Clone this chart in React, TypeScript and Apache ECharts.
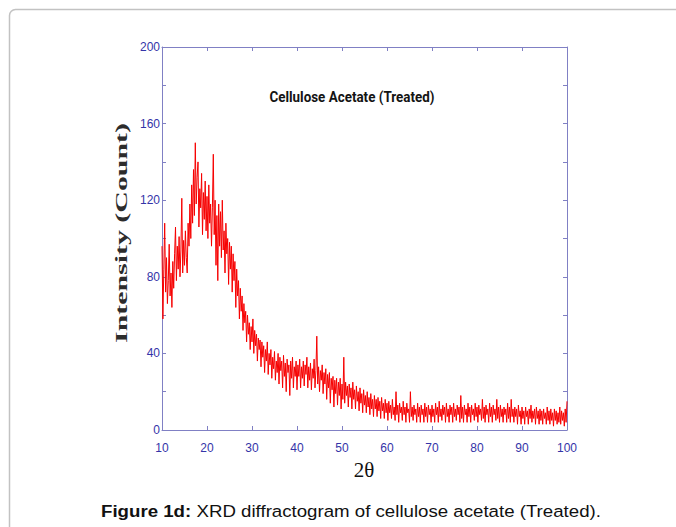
import React, { useEffect, useRef } from "react";
import * as echarts from "echarts";

// 2θ sampling of the trace
const X_START = 10;
const X_STEP = 0.2;

// Intensity (Count), 0.2° apart
const I_10_20 = [
  96, 58, 84, 108, 72, 90, 66, 78, 97, 70, 82, 64, 88, 74, 92, 106, 78, 96, 84, 101,
  80, 94, 121, 82, 99, 86, 104, 90, 82, 108, 96, 118, 100, 128, 108, 136, 112, 150, 118, 132,
  140, 106, 126, 116, 134, 102, 124, 110, 130, 104,
];
const I_20_30 = [
  122, 100, 128, 108, 118, 96, 116, 144, 102, 120, 86, 112, 78, 118, 96, 114, 90, 120, 94, 104,
  82, 108, 92, 100, 76, 98, 84, 96, 72, 92, 78, 88, 64, 84, 70, 78, 58, 74, 62, 70,
  52, 66, 56, 62, 46, 60, 50, 56, 42, 54,
];
const I_30_40 = [
  46, 58, 40, 52, 44, 50, 36, 48, 42, 47, 33, 46, 38, 44, 30, 42, 36, 46, 29, 40,
  34, 42, 27, 38, 32, 41, 26, 36, 30, 40, 24, 38, 31, 36, 22, 39, 28, 35, 20, 37,
  30, 34, 18, 36, 27, 38, 22, 33, 28, 36,
];
const I_40_50 = [
  21, 34, 28, 37, 22, 33, 27, 36, 23, 34, 29, 38, 22, 33, 26, 35, 21, 32, 27, 37,
  22, 31, 49, 24, 33, 20, 31, 26, 34, 19, 30, 24, 32, 16, 29, 22, 30, 14, 27, 21,
  28, 12, 26, 19, 27, 13, 25, 18, 27, 11,
];
const I_50_60 = [
  24, 16, 38, 14, 25, 18, 23, 12, 24, 17, 22, 11, 25, 16, 21, 11, 23, 15, 20, 10,
  22, 14, 19, 9, 21, 13, 18, 9, 20, 12, 17, 8, 19, 11, 16, 7, 18, 11, 16, 7,
  17, 10, 15, 6, 17, 10, 14, 6, 16, 9,
];
const I_60_70 = [
  14, 5, 15, 9, 13, 6, 16, 8, 12, 5, 20, 8, 13, 4, 14, 9, 12, 5, 15, 8,
  12, 4, 14, 9, 11, 4, 20, 7, 12, 5, 13, 8, 11, 4, 14, 7, 12, 4, 13, 8,
  11, 4, 14, 7, 12, 4, 13, 8, 11, 4,
];
const I_70_80 = [
  13, 7, 11, 4, 14, 8, 12, 4, 15, 7, 11, 5, 13, 8, 12, 4, 14, 7, 11, 4,
  13, 8, 12, 4, 14, 7, 11, 5, 13, 8, 12, 4, 18, 6, 12, 4, 13, 8, 11, 4,
  14, 7, 12, 4, 13, 8, 11, 5, 14, 7,
];
const I_80_90 = [
  12, 4, 13, 8, 11, 5, 16, 6, 12, 4, 13, 8, 11, 4, 14, 7, 12, 4, 13, 8,
  11, 5, 16, 6, 12, 4, 13, 7, 11, 4, 12, 8, 11, 4, 14, 6, 12, 4, 16, 7,
  11, 4, 12, 7, 11, 3, 13, 7, 10, 3,
];
const I_90_100 = [
  12, 6, 10, 3, 12, 7, 10, 3, 11, 6, 13, 4, 10, 6, 11, 3, 12, 6, 10, 3,
  11, 5, 10, 3, 11, 6, 9, 3, 12, 5, 10, 3, 11, 5, 9, 2, 11, 5, 10, 3,
  9, 4, 12, 3, 10, 5, 9, 2, 11, 4,
  15,
];

const Y_LABELS = [0, 40, 80, 120, 160, 200];

const TITLE = "Cellulose Acetate (Treated)";
const Y_NAME = "Intensity (Count)";
const X_NAME = "2θ";
const CAPTION_BOLD = "Figure 1d:";
const CAPTION_REST = " XRD diffractogram of cellulose acetate (Treated).";

const AXIS_COLOR = "#8080c4";
const LABEL_COLOR = "#3434a8";

function measure(text: string, font: string): number {
  const c = document.createElement("canvas");
  const ctx = c.getContext("2d");
  if (!ctx) return text.length * 8;
  ctx.font = font;
  return ctx.measureText(text).width;
}

export default function App() {
  const ref = useRef<HTMLDivElement>(null);

  useEffect(() => {
    if (!ref.current) return;
    const chart = echarts.init(ref.current, undefined, { renderer: "svg" });

    const values = [
      ...I_10_20, ...I_20_30, ...I_30_40, ...I_40_50, ...I_50_60,
      ...I_60_70, ...I_70_80, ...I_80_90, ...I_90_100,
    ];
    const data = values.map((v, i) => [X_START + i * X_STEP, v]);

    const titleFont = "bold 15px Roboto";
    const titleScale = 165 / measure(TITLE, titleFont);
    const yFont = "bold 17px 'Liberation Serif'";
    const yScale = 220 / measure(Y_NAME, yFont);
    const capBoldFont = "bold 17px 'Liberation Sans'";
    const capFont = "17px 'Liberation Sans'";
    const capScale =
      500 / (measure(CAPTION_BOLD, capBoldFont) + measure(CAPTION_REST, capFont));

    const axisCommon = {
      axisLine: { show: true, onZero: false, lineStyle: { color: AXIS_COLOR, width: 1 } },
      axisTick: { show: true, inside: true, length: 4, lineStyle: { color: AXIS_COLOR } },
      splitLine: { show: false },
    };

    chart.setOption({
      animation: false,
      backgroundColor: "#ffffff",
      grid: { left: 162, right: 109, top: 47, bottom: 97, containLabel: false },
      xAxis: [
        {
          type: "value",
          min: 10,
          max: 100,
          interval: 10,
          position: "bottom",
          ...axisCommon,
          axisLabel: {
            color: LABEL_COLOR,
            fontSize: 12,
            fontFamily: "'Liberation Sans', Arial, sans-serif",
            margin: 12,
          },
        },
        {
          type: "value",
          min: 10,
          max: 100,
          interval: 10,
          position: "top",
          ...axisCommon,
          axisLabel: { show: false },
        },
      ],
      yAxis: [
        {
          type: "value",
          min: 0,
          max: 200,
          interval: 20,
          position: "left",
          ...axisCommon,
          axisLabel: {
            color: LABEL_COLOR,
            fontSize: 12,
            fontFamily: "'Liberation Sans', Arial, sans-serif",
            margin: 2,
            formatter: (v: number) => (Y_LABELS.indexOf(v) >= 0 ? String(v) : ""),
          },
        },
        {
          type: "value",
          min: 0,
          max: 200,
          interval: 20,
          position: "right",
          ...axisCommon,
          axisLabel: { show: false },
        },
      ],
      series: [
        {
          type: "line",
          xAxisIndex: 0,
          yAxisIndex: 0,
          data,
          symbol: "none",
          showSymbol: false,
          clip: true,
          lineStyle: { color: "#f60000", width: 1 },
          emphasis: { disabled: true },
        },
      ],
      graphic: [
        {
          type: "rect",
          shape: { x: 9.5, y: 9.5, width: 720, height: 620, r: 6 },
          style: { fill: "none", stroke: "#c2c2c2", lineWidth: 1.5 },
          silent: true,
        },
        {
          type: "text",
          x: 352,
          y: 97,
          scaleX: titleScale,
          style: {
            text: TITLE,
            fontFamily: "Roboto",
            fontWeight: "bold",
            fontSize: 15,
            fill: "#141414",
            align: "center",
            verticalAlign: "middle",
          },
        },
        {
          type: "text",
          x: 121,
          y: 233,
          rotation: Math.PI / 2,
          scaleX: yScale,
          style: {
            text: Y_NAME,
            fontFamily: "'Liberation Serif', serif",
            fontWeight: "bold",
            fontSize: 17,
            fill: "#2c2c2c",
            align: "center",
            verticalAlign: "middle",
          },
        },
        {
          type: "text",
          x: 364,
          y: 470,
          style: {
            text: X_NAME,
            fontFamily: "'Liberation Serif', serif",
            fontSize: 21,
            fill: "#111111",
            align: "center",
            verticalAlign: "middle",
          },
        },
        {
          type: "text",
          x: 351,
          y: 511,
          scaleX: capScale,
          style: {
            text: "{b|" + CAPTION_BOLD + "}{n|" + CAPTION_REST + "}",
            align: "center",
            verticalAlign: "middle",
            rich: {
              b: {
                fontFamily: "'Liberation Sans', Arial, sans-serif",
                fontWeight: "bold",
                fontSize: 17,
                fill: "#111111",
              },
              n: {
                fontFamily: "'Liberation Sans', Arial, sans-serif",
                fontSize: 17,
                fill: "#111111",
              },
            },
          },
        },
      ],
    });

    return () => chart.dispose();
  }, []);

  return (
    <div
      ref={ref}
      style={{ position: "fixed", left: 0, top: 0, width: 676, height: 527, background: "#fff" }}
    />
  );
}
